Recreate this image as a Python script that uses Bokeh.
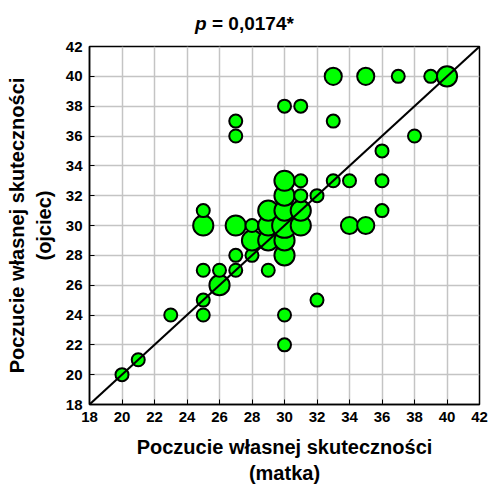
from bokeh.plotting import figure
from bokeh.models import Range1d, FixedTicker, ColumnDataSource, Div
from bokeh.layouts import column
from bokeh.embed import file_html
from bokeh.resources import INLINE

# Poczucie własnej skuteczności: matka (x), ojciec (y), liczba obserwacji w punkcie
mother = [20, 21, 23, 25, 25, 25, 25, 25, 26, 26, 27, 27, 27, 27, 27, 28, 28, 28,
          29, 29, 29, 29, 30, 30, 30, 30, 30, 30, 30, 30, 30, 31, 31, 31, 31, 31,
          32, 32, 33, 33, 33, 34, 34, 35, 35, 36, 36, 36, 37, 38, 39, 40]
father = [20, 21, 24, 24, 25, 27, 30, 31, 26, 27, 27, 28, 30, 36, 37, 28, 29, 30,
          27, 29, 30, 31, 22, 24, 28, 29, 30, 31, 32, 33, 38, 30, 31, 32, 33, 38,
          25, 32, 33, 37, 40, 30, 33, 30, 40, 31, 33, 35, 40, 36, 40, 40]
counts = [1, 1, 1, 1, 1, 1, 3, 1, 3, 1, 1, 1, 3, 1, 1, 1, 3, 1,
          1, 3, 3, 3, 1, 1, 3, 3, 5, 3, 3, 3, 1, 3, 3, 1, 1, 1,
          1, 1, 1, 1, 2, 2, 1, 2, 2, 1, 1, 1, 1, 1, 1, 3]
ticks = list(range(18, 43, 2))
diag = [18, 42]
title_p = "p"
title_rest = "= 0,0174*"

sizes = [13 * c ** 0.4 for c in counts]
src = ColumnDataSource(dict(x=mother, y=father, n=counts, s=sizes))

FONT = "Liberation Sans"
TITLE_H = 36

p = figure(frame_width=390, frame_height=358, output_backend="svg",
           toolbar_location=None,
           x_range=Range1d(18, 42), y_range=Range1d(18, 42),
           min_border_left=89, min_border_right=10, min_border_top=10,
           min_border_bottom=82, background_fill_color="white",
           border_fill_color="white", margin=(0, 0, 0, 0))

p.outline_line_color = "black"
p.outline_line_width = 1.5

for ax in (p.xaxis[0], p.yaxis[0]):
    ax.ticker = FixedTicker(ticks=ticks)
    ax.minor_tick_line_color = None
    ax.major_tick_in = 5
    ax.major_tick_out = 0
    ax.major_tick_line_color = "black"
    ax.axis_line_color = "black"
    ax.axis_line_width = 1.5
    ax.major_label_text_font = FONT
    ax.major_label_text_font_style = "bold"
    ax.major_label_text_font_size = "15px"
    ax.major_label_text_color = "black"
    ax.axis_label_text_font = FONT
    ax.axis_label_text_font_style = "bold"
    ax.axis_label_text_font_size = "20px"
    ax.axis_label_text_color = "black"
    ax.major_label_standoff = 7

p.xaxis[0].axis_label = "Poczucie własnej skuteczności\n(matka)"
p.yaxis[0].axis_label = "Poczucie własnej skuteczności\n(ojciec)"
p.xaxis[0].axis_label_standoff = 11
p.yaxis[0].axis_label_standoff = 8

p.xgrid.ticker = FixedTicker(ticks=ticks)
p.ygrid.ticker = FixedTicker(ticks=ticks)
p.xgrid.grid_line_color = "#c4c4c4"
p.ygrid.grid_line_color = "#c4c4c4"
p.xgrid.grid_line_width = 1.5
p.ygrid.grid_line_width = 1.5

p.scatter("x", "y", size="s", source=src, fill_color="#00ff00",
          line_color="black", line_width=2)
p.line(diag, diag, line_color="black", line_width=2)

title = Div(
    text=(f'<div style="width:489px;text-align:center;padding-top:13px;'
          f'font-family:\'{FONT}\';font-weight:bold;font-size:19px;'
          f'line-height:22px;color:black;">'
          f'<i>{title_p}</i> {title_rest}</div>'),
    width=489, height=TITLE_H, margin=(0, 0, 0, 0))

layout = column(title, p, spacing=0, margin=(0, 0, 0, 0))

open("out.html", "w").write(file_html(layout, INLINE))
